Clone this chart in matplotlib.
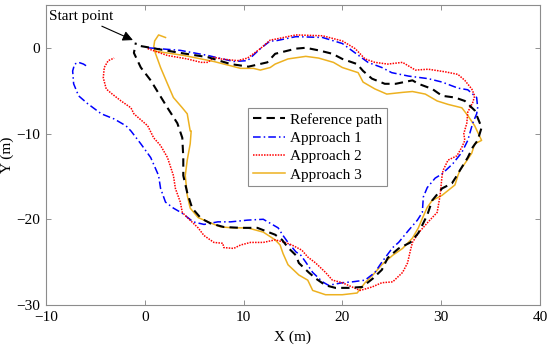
import matplotlib
matplotlib.use("Agg")
import matplotlib.pyplot as plt

plt.rcParams["font.family"] = ["Liberation Serif", "DejaVu Serif"]

# reference path (black dashed)
ref_x = [-0.4, 3.6, 6.4, 8.7, 10.5, 12.4, 13.2, 15.3, 16.3, 17.6, 19.0, 20.0, 21.5, 22.1,
         23.0, 24.3, 25.4, 27.1, 27.7, 29.1, 30.1, 31.4, 32.4, 33.4, 34.1, 33.7, 33.2,
         32.7, 31.9, 31.6, 31.1, 30.1, 29.1, 28.6, 27.7, 26.9, 25.7, 24.6, 24.0, 23.1,
         22.0, 20.6, 19.3, 18.3, 17.3, 16.6, 15.6, 15.3, 14.5, 13.9, 13.2, 11.4, 9.7,
         8.0, 6.7, 5.7, 4.8, 4.3, 3.9, 3.9, 3.8, 3.3, 2.3, 0.6, -0.4, -1.1, -0.9]
ref_y = [0.2, -0.6, -1.1, -1.9, -2.2, -1.7, -0.7, -0.1, 0.0, -0.3, -0.7, -1.3, -1.9, -2.7,
         -3.6, -4.2, -4.2, -3.8, -4.2, -4.8, -5.6, -5.8, -6.2, -7.3, -9.3, -10.8, -11.6,
         -12.8, -14.3, -14.9, -15.8, -16.4, -17.8, -19.5, -21.6, -22.7, -23.4, -24.5,
         -25.9, -26.9, -27.9, -28.0, -28.0, -27.7, -26.9, -26.2, -25.1, -24.2, -23.3,
         -22.4, -21.8, -21.0, -21.0, -20.9, -20.5, -19.9, -18.7, -16.9, -14.9, -12.8,
         -10.5, -8.8, -7.0, -3.8, -2.3, -0.6, 0.6]

# approach 1 (blue dash-dot)
a1_x = [0.3, 3.6, 6.4, 9.0, 10.4, 11.7, 12.7, 13.2, 15.3, 18.0, 20.0, 21.3, 22.6, 24.0,
        25.0, 26.7, 28.7, 30.1, 31.7, 32.7, 33.6, 33.7, 33.6, 33.2, 32.7, 32.1, 31.2,
        30.1, 29.4, 28.6, 28.2, 28.1, 27.6, 26.7, 25.7, 25.1, 24.0, 23.3, 22.3, 21.0,
        20.0, 18.6, 18.0, 17.0, 16.3, 15.8, 15.3, 14.5, 14.0, 13.5, 13.2, 12.0, 10.4,
        8.7, 7.4, 6.0, 4.9, 3.8, 2.9, 2.1, 1.6, 1.4, 0.6, -0.4, -1.4, -1.9, -3.1, -4.4,
        -5.8, -6.7, -7.2, -7.3, -7.1, -6.7, -6.2, -5.8]
a1_y = [0.0, -0.3, -0.9, -1.6, -1.5, -0.1, 0.8, 0.8, 1.3, 1.2, 0.5, -0.6, -1.7, -2.3,
        -2.9, -3.3, -3.6, -4.0, -4.7, -4.9, -5.8, -7.0, -7.7, -8.8, -10.8, -12.2, -13.5,
        -14.7, -15.2, -16.3, -17.4, -19.2, -20.1, -21.3, -22.7, -23.3, -25.0, -26.2,
        -27.1, -27.3, -27.4, -27.7, -27.3, -26.2, -25.0, -24.2, -23.8, -22.7, -21.9,
        -21.0, -20.8, -20.0, -20.1, -20.3, -20.3, -20.6, -20.3, -19.3, -18.7, -18.0,
        -16.4, -14.9, -12.8, -11.2, -9.7, -9.1, -8.3, -7.7, -6.5, -5.6, -4.2, -2.7,
        -1.9, -1.7, -1.9, -2.2]

# approach 2 (red dotted)
a2_x = [0.3, 2.3, 4.3, 5.7, 6.4, 7.0, 7.7, 9.4, 10.4, 11.7, 12.7, 13.2, 15.3, 18.0,
        20.0, 21.3, 22.3, 23.3, 24.6, 26.1, 27.4, 28.7, 30.4, 31.7, 32.4, 33.1, 33.4,
        33.2, 32.7, 32.6, 32.3, 32.4, 32.1, 31.6, 30.7, 30.2, 30.1, 29.9, 29.6, 28.7,
        27.7, 27.1, 26.9, 26.6, 26.1, 25.1, 24.0, 23.0, 21.8, 21.0, 20.0, 19.0, 18.3,
        17.3, 16.5, 15.9, 14.9, 14.2, 13.2, 12.0, 10.7, 9.7, 9.0, 8.0, 7.9, 7.0, 6.0,
        5.4, 4.4, 3.8, 3.6, 3.1, 2.9, 2.3, 1.6, 0.9, 0.3, -1.1, -1.4, -2.4, -3.4, -3.9,
        -4.2, -4.1, -3.7, -3.1]
a2_y = [-0.1, -0.9, -1.3, -1.7, -1.7, -1.1, -1.3, -1.5, -1.2, -0.1, 0.9, 1.0, 1.5, 1.4,
        0.8, -0.1, -1.3, -1.7, -1.9, -1.7, -2.6, -2.5, -2.8, -3.1, -3.8, -4.8, -5.6,
        -6.4, -7.5, -8.8, -10.0, -10.8, -11.6, -12.6, -13.1, -14.3, -14.9, -17.2, -19.2,
        -20.3, -21.6, -22.7, -23.6, -25.1, -26.2, -27.3, -27.4, -27.9, -28.3, -27.9,
        -27.4, -27.1, -26.2, -25.1, -24.4, -23.6, -23.0, -22.7, -22.4, -22.7, -22.7,
        -23.0, -23.4, -23.3, -22.8, -22.7, -21.9, -21.0, -19.9, -19.2, -18.0, -16.4,
        -14.9, -12.8, -11.4, -10.5, -9.1, -7.7, -7.0, -6.2, -5.3, -4.8, -3.5, -2.3,
        -1.5, -1.2]

# approach 3 (orange solid)
a3_x = [1.1, 4.0, 5.7, 7.0, 8.7, 9.7, 11.0, 11.7, 12.7, 13.2, 14.5, 16.3, 17.6, 19.1,
        20.0, 21.6, 22.1, 23.3, 24.5, 26.1, 27.1, 28.4, 29.6, 30.7, 32.1, 32.7, 33.4,
        34.1, 33.4, 33.1, 32.4, 31.9, 31.7, 31.4, 30.1, 29.1, 28.6, 28.1, 27.7, 27.1,
        26.1, 25.1, 24.0, 23.1, 22.3, 21.5, 20.0, 18.3, 17.0, 16.5, 15.6, 14.5, 14.0,
        13.7, 13.2, 12.0, 10.4, 9.0, 7.7, 6.4, 5.4, 4.6, 4.3, 4.1, 4.3, 4.6, 4.7, 4.6,
        4.3, 3.8, 2.9, 2.3, 1.6, 1.1, 0.9, 1.0, 1.4, 2.1]
a3_y = [-0.4, -0.9, -1.3, -1.6, -2.1, -2.4, -2.4, -2.6, -2.3, -1.9, -1.3, -1.0, -1.2,
        -1.7, -2.3, -2.9, -4.0, -4.8, -5.4, -5.2, -5.1, -5.4, -6.2, -6.6, -7.0, -7.9,
        -9.1, -10.8, -11.2, -12.3, -13.5, -14.3, -14.9, -16.0, -17.2, -17.8, -18.6,
        -19.9, -21.0, -22.2, -23.4, -24.2, -25.3, -26.5, -27.4, -28.6, -28.8, -28.8,
        -28.3, -27.1, -26.5, -25.3, -24.0, -23.0, -22.4, -21.5, -21.0, -21.0, -20.9,
        -20.3, -19.8, -18.7, -17.2, -14.9, -13.1, -11.2, -9.7, -9.7, -7.7, -7.0, -5.8,
        -4.2, -2.3, -0.7, 0.0, 0.8, 1.5, 1.2]

labels = ["Reference path", "Approach 1", "Approach 2", "Approach 3"]

fig = plt.figure(figsize=(5.5, 3.51), dpi=100)
ax = fig.add_axes([0.0836, 0.131, 0.898, 0.855])

ax.plot(ref_x, ref_y, color="black", lw=1.5, ls=(0, (4, 2.5)), label=labels[0], zorder=5)
ax.plot(a1_x, a1_y, color="#0000FF", lw=1.1, ls=(0, (5, 2, 1, 2)), label=labels[1], zorder=3)
ax.plot(a2_x, a2_y, color="#FF0000", lw=1.1, ls=(0, (1, 0.8)), label=labels[2], zorder=4)
ax.plot(a3_x, a3_y, color="#EDB120", lw=1.1, ls="-", label=labels[3], zorder=2)

ax.annotate("Start point", xy=(-1.2, 0.9), xytext=(-9.7, 3.6),
            fontsize=11, va="center", ha="left",
            arrowprops=dict(arrowstyle="-|>", color="black", lw=0.8,
                            mutation_scale=15, shrinkA=34, shrinkB=0))

ax.set_xlim(-10, 40)
ax.set_ylim(-30, 5)
ax.set_xticks([-10, 0, 10, 20, 30, 40])
ax.set_yticks([-30, -20, -10, 0])
ax.tick_params(direction="in", top=True, right=True, length=3.5, width=0.6,
               color="#808080", labelsize=11, pad=4)
for sp in ax.spines.values():
    sp.set_color("#8c8c8c")
    sp.set_linewidth(0.8)
ax.set_xlabel("X (m)", fontsize=11, labelpad=5)
ax.set_ylabel("Y (m)", fontsize=11, labelpad=2)

leg = ax.legend(loc="upper left", bbox_to_anchor=(0.409, 0.655), fontsize=11,
                fancybox=False, framealpha=1, edgecolor="#8c8c8c",
                handlelength=2.1, handletextpad=0.35, borderpad=0.3,
                labelspacing=0.3, borderaxespad=0)
leg.get_frame().set_linewidth(0.8)

fig.savefig("out.png", dpi=100)
